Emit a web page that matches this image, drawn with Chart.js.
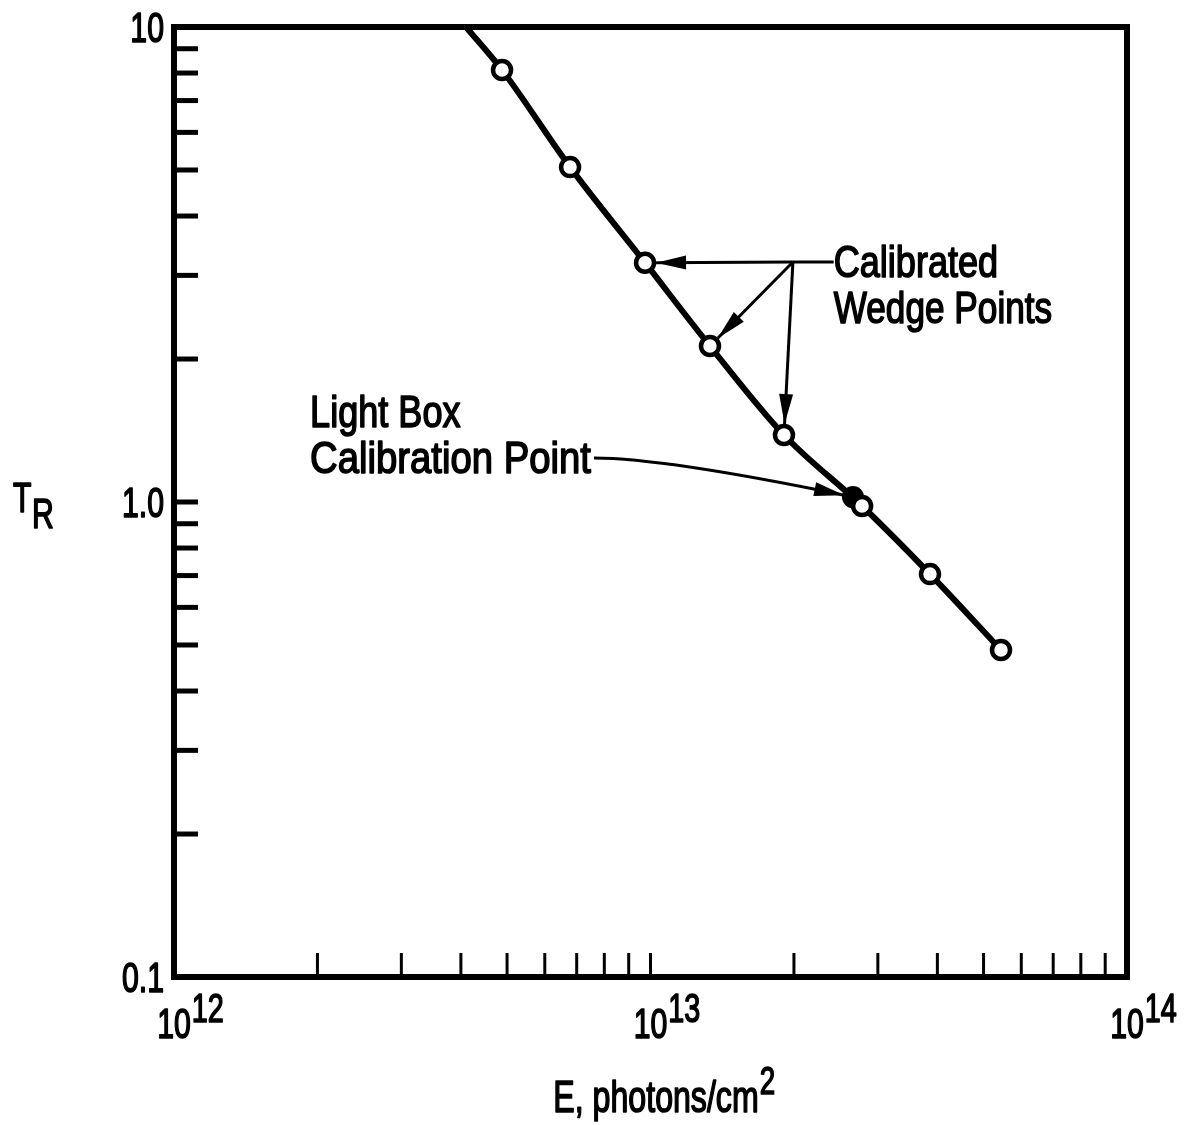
<!DOCTYPE html>
<html lang="en">
<head>
<meta charset="UTF-8">
<title>T_R vs E, photons/cm2</title>
<script src="https://cdn.jsdelivr.net/npm/chart.js"></script>
<style>
  html, body { margin: 0; padding: 0; background: #fff; }
</style>
</head>
<body>
<canvas id="chart" width="1190" height="1125"></canvas>
<script>
const FONT = "'Liberation Sans', Arial, sans-serif";

// calibrated wedge points (open circles)
const wedgeE = [4.88e12, 6.78e12, 9.74e12, 1.333e13, 1.906e13, 2.78e13, 3.86e13, 5.44e13];
const wedgeT = [8.12, 5.07, 3.19, 2.13, 1.384, 0.981, 0.705, 0.488];

// light box calibration point (filled)
const boxE = [2.66e13];
const boxT = [1.024];

// drawn curve (runs off the top of the frame)
const curveE = [4.1e12, 4.88e12, 6.78e12, 9.74e12, 1.333e13, 1.906e13, 2.78e13, 3.86e13, 5.44e13];
const curveT = [10, 8.12, 5.07, 3.19, 2.13, 1.384, 0.981, 0.705, 0.488];

// axis labels
const xDecades = [1e12, 1e13, 1e14];
const xExponents = ['12', '13', '14'];
const yDecades = [0.1, 1, 10];
const yLabels = ['0.1', '1.0', '10'];

const pts = (xs, ys) => xs.map((x, i) => ({ x: x, y: ys[i] }));

// condensed text: regular font squeezed horizontally, lightly stroked
function text(ctx, s, x, y, size, align, squeeze) {
  ctx.save();
  ctx.font = size + 'px ' + FONT;
  const w = ctx.measureText(s).width * squeeze;
  let x0 = x;
  if (align === 'center') x0 = x - w / 2;
  if (align === 'right') x0 = x - w;
  ctx.translate(x0, y);
  ctx.scale(squeeze, 1);
  ctx.textAlign = 'left';
  ctx.lineWidth = 1.6;
  ctx.lineJoin = 'round';
  ctx.fillText(s, 0, 0);
  ctx.strokeText(s, 0, 0);
  ctx.restore();
  return w;
}

function arrowHead(ctx, x1, y1, x2, y2, len, half) {
  const a = Math.atan2(y2 - y1, x2 - x1);
  ctx.beginPath();
  ctx.moveTo(x2, y2);
  ctx.lineTo(x2 - len * Math.cos(a) + half * Math.sin(a), y2 - len * Math.sin(a) - half * Math.cos(a));
  ctx.lineTo(x2 - len * Math.cos(a) - half * Math.sin(a), y2 - len * Math.sin(a) + half * Math.cos(a));
  ctx.closePath();
  ctx.fill();
}

function arrow(ctx, x1, y1, x2, y2) {
  ctx.beginPath();
  ctx.moveTo(x1, y1);
  ctx.lineTo(x2, y2);
  ctx.stroke();
  arrowHead(ctx, x1, y1, x2, y2, 30, 7);
}

// point x2,y2 pulled back by r toward x1,y1
function edge(x1, y1, x2, y2, r) {
  const d = Math.hypot(x2 - x1, y2 - y1);
  return [x2 - (x2 - x1) / d * r, y2 - (y2 - y1) / d * r];
}

const decor = {
  id: 'decor',
  afterDraw(chart) {
    const ctx = chart.ctx;
    const xs = chart.scales.x, ys = chart.scales.y;
    const a = chart.chartArea;
    ctx.save();
    ctx.strokeStyle = '#000';
    ctx.fillStyle = '#000';
    ctx.lineCap = 'butt';
    ctx.textBaseline = 'alphabetic';

    // frame
    ctx.lineWidth = 6;
    ctx.strokeRect(a.left, a.top, a.right - a.left, a.bottom - a.top);

    // inner ticks, y
    ctx.lineWidth = 5;
    [0.1, 1].forEach(d => {
      for (let m = 1; m <= 9; m++) {
        if (d === 0.1 && m === 1) continue;
        const y = ys.getPixelForValue(d * m);
        ctx.beginPath();
        ctx.moveTo(a.left, y);
        ctx.lineTo(a.left + 24, y);
        ctx.stroke();
      }
    });
    // inner ticks, x
    ctx.lineWidth = 3;
    [1e12, 1e13].forEach(d => {
      for (let m = 1; m <= 9; m++) {
        if (d === 1e12 && m === 1) continue;
        const x = xs.getPixelForValue(d * m);
        ctx.beginPath();
        ctx.moveTo(x, a.bottom);
        ctx.lineTo(x, a.bottom - 24);
        ctx.stroke();
      }
    });

    // y tick labels
    yDecades.forEach((v, i) => {
      text(ctx, yLabels[i], a.left - 10, ys.getPixelForValue(v) + 15, 42, 'right', 0.72);
    });

    // x tick labels with exponent
    xDecades.forEach((v, i) => {
      const x = xs.getPixelForValue(v);
      const w = text(ctx, '10', x, a.bottom + 61, 42, 'center', 0.72);
      text(ctx, xExponents[i], x + w / 2 + 1, a.bottom + 45, 40, 'left', 0.72);
    });

    // x axis title
    ctx.font = '44px ' + FONT;
    const w1 = ctx.measureText('E, photons/cm').width * 0.73;
    const tx = 665 - (w1 + 18) / 2;
    text(ctx, 'E, photons/cm', tx, a.bottom + 135, 44, 'left', 0.73);
    text(ctx, '2', tx + w1 + 1, a.bottom + 117, 38, 'left', 0.73);

    // y axis title T_R
    text(ctx, 'T', 13, 512, 42, 'left', 0.72);
    text(ctx, 'R', 32, 528, 42, 'left', 0.72);

    // annotation: calibrated wedge points
    const jx = xs.getPixelForValue(1.99e13), jy = ys.getPixelForValue(3.2);
    const lx = xs.getPixelForValue(2.40e13);
    text(ctx, 'Calibrated', lx + 2, jy + 15, 44, 'left', 0.82);
    text(ctx, 'Wedge Points', lx + 2, jy + 61, 44, 'left', 0.8);
    ctx.lineWidth = 3;
    ctx.beginPath();
    ctx.moveTo(lx + 2, jy);
    ctx.lineTo(jx, jy);
    ctx.stroke();
    [2, 3, 4].forEach(i => {
      const px = xs.getPixelForValue(wedgeE[i]), py = ys.getPixelForValue(wedgeT[i]);
      const [ex, ey] = edge(jx, jy, px, py, 11);
      arrow(ctx, jx, jy, ex, ey);
    });

    // annotation: light box calibration point
    const bx = xs.getPixelForValue(1.93e12);
    const by1 = ys.getPixelForValue(1.547), by2 = ys.getPixelForValue(1.237);
    text(ctx, 'Light Box', bx, by1 + 15, 44, 'left', 0.82);
    const tw = text(ctx, 'Calibration Point', bx, by2 + 15, 44, 'left', 0.87);
    const sx = bx + tw + 3;
    const fx = xs.getPixelForValue(boxE[0]), fy = ys.getPixelForValue(boxT[0]);
    const cx = sx + 70, cy = by2;
    const [ex, ey] = edge(cx, cy, fx, fy, 9);
    ctx.lineWidth = 3;
    ctx.beginPath();
    ctx.moveTo(sx, by2);
    ctx.quadraticCurveTo(cx, cy, ex, ey);
    ctx.stroke();
    arrowHead(ctx, cx, cy, ex, ey, 30, 7);

    ctx.restore();
  }
};

new Chart(document.getElementById('chart'), {
  type: 'scatter',
  data: {
    datasets: [
      {
        label: 'Calibrated wedge points',
        data: pts(wedgeE, wedgeT),
        pointRadius: 9,
        pointBorderWidth: 4.5,
        pointBackgroundColor: '#fff',
        pointBorderColor: '#000'
      },
      {
        label: 'Light box calibration point',
        data: pts(boxE, boxT),
        pointRadius: 11,
        pointBorderWidth: 0,
        pointBackgroundColor: '#000',
        pointBorderColor: '#000'
      },
      {
        type: 'line',
        label: 'curve',
        data: pts(curveE, curveT),
        borderColor: '#000',
        borderWidth: 6,
        pointRadius: 0,
        cubicInterpolationMode: 'monotone',
        fill: false
      }
    ]
  },
  options: {
    responsive: false,
    animation: false,
    events: [],
    layout: { padding: { top: 27, right: 63, left: 0, bottom: 0 } },
    plugins: { legend: { display: false }, tooltip: { enabled: false } },
    scales: {
      x: {
        type: 'logarithmic',
        min: 1e12,
        max: 1e14,
        grid: { display: false },
        border: { display: false },
        ticks: { display: false },
        afterFit: s => { s.height = 148; }
      },
      y: {
        type: 'logarithmic',
        min: 0.1,
        max: 10,
        grid: { display: false },
        border: { display: false },
        ticks: { display: false },
        afterFit: s => { s.width = 174; }
      }
    }
  },
  plugins: [decor]
});
</script>
</body>
</html>
